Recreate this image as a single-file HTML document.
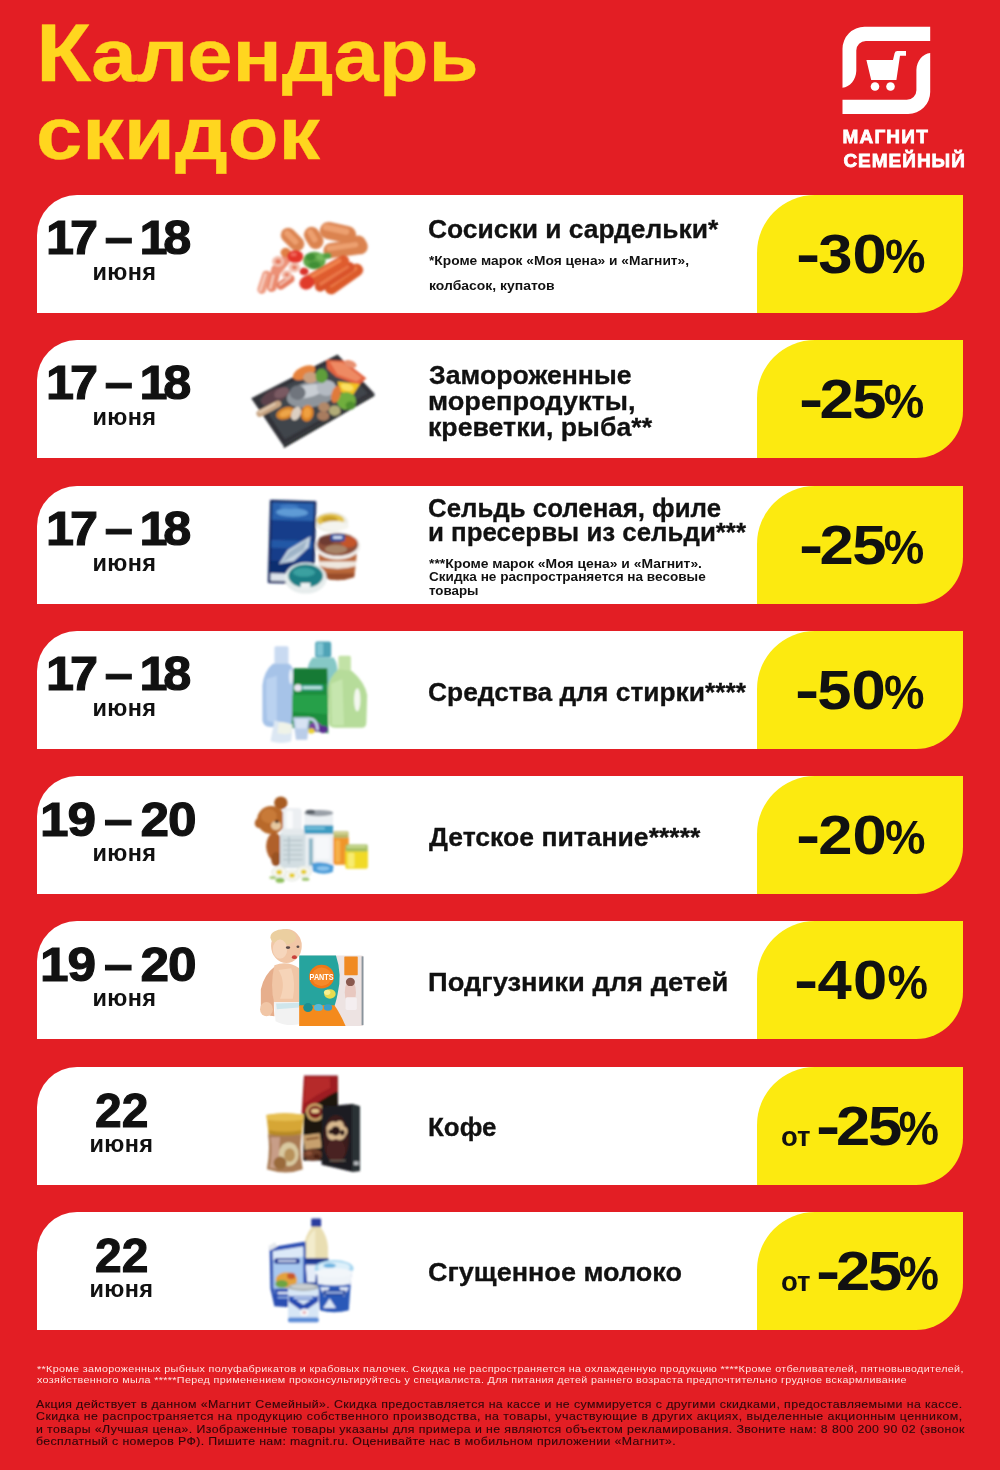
<!DOCTYPE html>
<html lang="ru">
<head>
<meta charset="utf-8">
<title>Календарь скидок — Магнит Семейный</title>
<style>
html,body{margin:0;padding:0}
body{width:1000px;height:1470px;background:#E31E24;position:relative;overflow:hidden;font-family:"Liberation Sans",sans-serif}
.t{position:absolute;white-space:nowrap;transform-origin:0 0;margin:0;padding:0;font-weight:bold;color:#111}
.row{position:absolute;left:37px;width:926px;height:118px}
.card{position:absolute;left:0;top:0;width:800px;height:118px;background:#fff;border-top-left-radius:40px}
.badge{position:absolute;left:720px;top:0;width:206px;height:118px;background:#FCEA10;border-radius:58px 0 47px 0}
.pp{display:inline-block;font-size:.87em;transform:scaleX(.85);transform-origin:0 100%;margin-left:-1px}
.hy{display:inline-block;transform:scaleX(1.18);transform-origin:0 50%;margin-right:1.5px}
.dt{-webkit-text-stroke:1.1px #111}
.g{margin:0;padding:0;font-size:0;line-height:0}
.nm{-webkit-text-stroke:.3px #111}
.lg{-webkit-text-stroke:.8px #fff}
.f2{-webkit-text-stroke:.12px #30070A}
.ti{-webkit-text-stroke:.3px #FFD61F}
.pic{position:absolute;display:block}
.logo{position:absolute;display:block}
</style>
</head>
<body>

<h1 style="margin:0;font-size:0"><span class="t ti" style="left:36.40px;top:16.36px;font-size:74px;line-height:74px;color:#FFD61F;transform:scaleX(1.1015);"><span style="font-size:82px">К</span>алендарь</span><span class="t ti" style="left:35.60px;top:97.26px;font-size:74px;line-height:74px;color:#FFD61F;transform:scaleX(1.1230);">скидок</span></h1>
<svg class="logo" style="left:842px;top:26px" width="89" height="89" viewBox="0 0 89 89" aria-label="Магнит">
<g fill="#fff">
<path d="M88.2 0.8H22.5A22 22 0 0 0 0.5 22.8V61.8C8 61 13.9 54 14.3 45V24.6A9.6 9.6 0 0 1 23.9 15H88.2Z"/>
<path d="M0.5 88H66.2A22 22 0 0 0 88.2 66V27C80.7 27.800 74.8 34.800 74.4 43.800V64.200A9.600 9.600 0 0 1 64.800 73.800H0.5Z"/>
<g transform="translate(0 0.9)"><path d="M24.4 33.2H51L52.6 26.3Q53.1 24 55.4 24H64V28.800H58L54.4 53.2H29.2Z"/>
<circle cx="33" cy="59.6" r="4.3"/><circle cx="48.5" cy="59.6" r="4.3"/></g>
</g>
</svg>
<div class="t lg" style="left:842.40px;top:127.12px;font-size:19px;line-height:19px;color:#fff;letter-spacing:1.221px;">МАГНИТ</div><div class="t lg" style="left:843.40px;top:150.52px;font-size:19px;line-height:19px;color:#fff;letter-spacing:0.990px;">СЕМЕЙНЫЙ</div>
<section class="row" style="top:195px">
<div class="card"></div><div class="badge"></div>
<div class="t dt" style="left:9.00px;top:18.14px;font-size:48.5px;line-height:48.5px;letter-spacing:-4.000px;word-spacing:1.00px;transform:scaleX(1.0400);">17 – 18</div><div class="t" style="left:55.60px;top:66.41px;font-size:23.5px;line-height:23.5px;letter-spacing:0.297px;">июня</div><h2 class="g nm"><span class="t" style="left:390.68px;top:21.49px;font-size:26px;line-height:26px;transform:scaleX(1.0158);">Сосиски и сардельки*</span></h2><p class="g"><span class="t" style="left:391.70px;top:58.77px;font-size:13.5px;line-height:13.5px;transform:scaleX(1.0200);">*Кроме марок «Моя цена» и «Магнит»,</span> <span class="t" style="left:391.70px;top:84.37px;font-size:13.5px;line-height:13.5px;transform:scaleX(1.0325);">колбасок, купатов</span></p><div class="t" style="left:758.80px;top:31.20px;font-size:56px;line-height:56px;transform:scaleX(1.1000);"><span class="hy">-</span>30<span class="pp">%</span></div>
<svg class="pic" style="left:203px;top:0px" width="160" height="118" viewBox="0 0 1000 738" role="img" aria-label="Сосиски и сардельки"><defs><filter id="b1" x="-5%" y="-5%" width="110%" height="110%"><feGaussianBlur stdDeviation="5"/></filter></defs><g filter="url(#b1)"><rect x="75" y="518" width="150" height="54" rx="27" fill="#EE9A80" transform="rotate(-72 150 545)" /><rect x="83" y="539" width="120" height="12" rx="6" fill="#F9D8CC" transform="rotate(-72 143 545)" /><rect x="124" y="490" width="175" height="60" rx="30" fill="#EA8A6E" transform="rotate(-76 212 520)" /><rect x="134" y="513" width="140" height="14" rx="7" fill="#F8D2C4" transform="rotate(-76 204 520)" /><rect x="222" y="519" width="125" height="52" rx="26" fill="#E67C60" transform="rotate(-35 285 545)" /><rect x="237" y="532" width="90" height="12" rx="6" fill="#F6C8B8" transform="rotate(-35 282 538)" /><rect x="180" y="409" width="150" height="62" rx="31" fill="#EC9076" transform="rotate(-50 255 440)" /><ellipse cx="238" cy="415" rx="38" ry="34" fill="#F3BFAE" /><ellipse cx="340" cy="452" rx="36" ry="32" fill="#F4C4B4" /><ellipse cx="292" cy="498" rx="32" ry="28" fill="#F3C0B0" /><ellipse cx="238" cy="415" rx="18" ry="16" fill="#E67C60" /><ellipse cx="340" cy="452" rx="16" ry="14" fill="#E67C60" /><ellipse cx="292" cy="498" rx="14" ry="12" fill="#E67C60" /><rect x="243" y="232" width="170" height="92" rx="46" fill="#DB8350" transform="rotate(45 328 278)" /><rect x="265" y="248" width="110" height="36" rx="18" fill="#EDA070" transform="rotate(45 320 266)" /><rect x="388" y="219" width="145" height="98" rx="49" fill="#DB8350" transform="rotate(58 460 268)" /><rect x="407" y="237" width="90" height="36" rx="18" fill="#EDA070" transform="rotate(58 452 255)" /><ellipse cx="285" cy="360" rx="32" ry="30" fill="#E07F45" /><rect x="685" y="264" width="120" height="95" rx="48" fill="#DB8350" transform="rotate(60 745 312)" /><rect x="520" y="288" width="270" height="95" rx="48" fill="#DB8350" transform="rotate(-8 655 335)" /><rect x="540" y="305" width="200" height="34" rx="17" fill="#EDA070" transform="rotate(-8 640 322)" /><rect x="497" y="181" width="230" height="108" rx="54" fill="#DB8350" transform="rotate(12 612 235)" /><rect x="515" y="195" width="170" height="40" rx="20" fill="#EDA070" transform="rotate(12 600 215)" /><rect x="512" y="485" width="275" height="80" rx="40" fill="#DC5A2A" transform="rotate(-35 650 525)" /><rect x="540" y="499" width="210" height="26" rx="13" fill="#EE7F4A" transform="rotate(-35 645 512)" /><rect x="450" y="479" width="285" height="66" rx="33" fill="#D9522A" transform="rotate(-33 592 512)" /><rect x="478" y="491" width="220" height="22" rx="11" fill="#EB7848" transform="rotate(-33 588 502)" /><rect x="356" y="445" width="345" height="74" rx="37" fill="#DF5B2E" transform="rotate(-30 528 482)" /><rect x="390" y="458" width="260" height="24" rx="12" fill="#F0834E" transform="rotate(-30 520 470)" /><ellipse cx="418" cy="548" rx="48" ry="42" fill="#E03A2A" transform="rotate(-30 418 548)" /><ellipse cx="345" cy="385" rx="50" ry="40" fill="#E3342B" /><ellipse cx="335" cy="372" rx="20" ry="12" fill="#F0685C" /><ellipse cx="400" cy="478" rx="28" ry="24" fill="#D9302A" /><ellipse cx="465" cy="410" rx="70" ry="55" fill="#5FA648" /><ellipse cx="440" cy="388" rx="30" ry="24" fill="#3F8F36" /><ellipse cx="510" cy="388" rx="34" ry="22" fill="#74BA5C" /><ellipse cx="465" cy="438" rx="38" ry="22" fill="#3F8F36" /><ellipse cx="545" cy="380" rx="26" ry="20" fill="#55A044" /></g></svg>
</section>
<section class="row" style="top:340px">
<div class="card"></div><div class="badge"></div>
<div class="t dt" style="left:9.00px;top:18.14px;font-size:48.5px;line-height:48.5px;letter-spacing:-4.000px;word-spacing:1.00px;transform:scaleX(1.0400);">17 – 18</div><div class="t" style="left:55.60px;top:66.41px;font-size:23.5px;line-height:23.5px;letter-spacing:0.297px;">июня</div><h2 class="g nm"><span class="t" style="left:391.70px;top:21.99px;font-size:26px;line-height:26px;transform:scaleX(1.0253);">Замороженные</span><br><span class="t" style="left:390.66px;top:48.09px;font-size:26px;line-height:26px;transform:scaleX(1.0449);">морепродукты,</span><br><span class="t" style="left:390.67px;top:74.19px;font-size:26px;line-height:26px;transform:scaleX(1.0270);">креветки, рыба**</span></h2><div class="t" style="left:762.40px;top:31.20px;font-size:56px;line-height:56px;letter-spacing:-1.500px;transform:scaleX(1.1000);"><span class="hy">-</span>25<span class="pp">%</span></div>
<svg class="pic" style="left:203px;top:0px" width="160" height="118" viewBox="0 0 1000 738" role="img" aria-label="Замороженные морепродукты"><defs><filter id="b2" x="-5%" y="-5%" width="110%" height="110%"><feGaussianBlur stdDeviation="5"/></filter></defs><g filter="url(#b2)"><polygon points="70,365 610,90 840,335 270,660" fill="#303338" /><polygon points="120,370 600,125 800,335 280,620" fill="#41454B" /><polygon points="270,660 840,335 840,350 275,675" fill="#1F2023" /><ellipse cx="215" cy="355" rx="90" ry="45" fill="#5C434B" transform="rotate(-25 215 355)" /><ellipse cx="260" cy="330" rx="50" ry="30" fill="#7A5A62" transform="rotate(-25 260 330)" /><ellipse cx="450" cy="340" rx="160" ry="80" fill="#8E949B" transform="rotate(-12 450 340)" /><ellipse cx="420" cy="320" rx="110" ry="40" fill="#C9CED4" transform="rotate(-12 420 320)" /><ellipse cx="540" cy="300" rx="60" ry="50" fill="#B4BAC2" /><ellipse cx="360" cy="330" rx="50" ry="45" fill="#6F757D" /><ellipse cx="400" cy="205" rx="75" ry="38" fill="#E5823C" transform="rotate(-25 400 205)" /><ellipse cx="440" cy="235" rx="45" ry="35" fill="#C9A080" /><polygon points="540,125 650,130 790,240 740,285 600,230 545,180" fill="#E2623F" /><polygon points="560,135 640,140 760,235 730,260 610,215" fill="#EE8A63" /><ellipse cx="690" cy="150" rx="40" ry="22" fill="#E89070" transform="rotate(20 690 150)" /><polygon points="610,260 750,275 705,345 625,325" fill="#F4C21F" /><ellipse cx="670" cy="295" rx="40" ry="22" fill="#FBE060" transform="rotate(15 670 295)" /><ellipse cx="510" cy="225" rx="38" ry="45" fill="#5E9E3A" /><ellipse cx="665" cy="380" rx="60" ry="55" fill="#6FAE3C" /><ellipse cx="690" cy="410" rx="30" ry="25" fill="#4F8F2E" /><ellipse cx="600" cy="340" rx="28" ry="55" fill="#E07A3A" transform="rotate(15 600 340)" /><rect x="95" y="409" width="170" height="42" rx="21" fill="#C9A684" transform="rotate(-28 180 430)" /><rect x="110" y="418" width="120" height="14" rx="7" fill="#E2CBB0" transform="rotate(-28 170 425)" /><ellipse cx="285" cy="458" rx="62" ry="36" fill="#D5842C" transform="rotate(-20 285 458)" /><ellipse cx="285" cy="458" rx="40" ry="20" fill="#EDA648" transform="rotate(-20 285 458)" /><ellipse cx="420" cy="458" rx="40" ry="52" fill="#DE8428" transform="rotate(10 420 458)" /><ellipse cx="420" cy="455" rx="24" ry="34" fill="#F0A040" transform="rotate(10 420 455)" /><ellipse cx="350" cy="460" rx="28" ry="45" fill="#DCCFC2" transform="rotate(25 350 460)" /><ellipse cx="525" cy="420" rx="36" ry="30" fill="#B28868" /><ellipse cx="592" cy="442" rx="36" ry="32" fill="#B2AC78" /><ellipse cx="520" cy="475" rx="38" ry="30" fill="#A87C5E" /></g></svg>
</section>
<section class="row" style="top:486px">
<div class="card"></div><div class="badge"></div>
<div class="t dt" style="left:9.00px;top:18.14px;font-size:48.5px;line-height:48.5px;letter-spacing:-4.000px;word-spacing:1.00px;transform:scaleX(1.0400);">17 – 18</div><div class="t" style="left:55.60px;top:66.41px;font-size:23.5px;line-height:23.5px;letter-spacing:0.297px;">июня</div><h2 class="g nm"><span class="t" style="left:390.71px;top:9.39px;font-size:26px;line-height:26px;transform:scaleX(0.9936);">Сельдь соленая, филе</span><br><span class="t" style="left:390.70px;top:32.79px;font-size:26px;line-height:26px;transform:scaleX(0.9953);">и пресервы из сельди***</span></h2><p class="g"><span class="t" style="left:391.70px;top:71.17px;font-size:13.5px;line-height:13.5px;transform:scaleX(1.0282);">***Кроме марок «Моя цена» и «Магнит».</span> <span class="t" style="left:391.70px;top:84.47px;font-size:13.5px;line-height:13.5px;transform:scaleX(1.0051);">Скидка не распространяется на весовые</span> <span class="t" style="left:391.70px;top:97.77px;font-size:13.5px;line-height:13.5px;transform:scaleX(0.9888);">товары</span></p><div class="t" style="left:762.40px;top:31.20px;font-size:56px;line-height:56px;letter-spacing:-1.500px;transform:scaleX(1.1000);"><span class="hy">-</span>25<span class="pp">%</span></div>
<svg class="pic" style="left:203px;top:0px" width="160" height="118" viewBox="0 0 1000 738" role="img" aria-label="Сельдь соленая, филе и пресервы"><defs><filter id="b3" x="-5%" y="-5%" width="110%" height="110%"><feGaussianBlur stdDeviation="5"/></filter></defs><g filter="url(#b3)"><ellipse cx="570" cy="225" rx="105" ry="62" fill="#ECECE4" /><ellipse cx="565" cy="215" rx="85" ry="42" fill="#E3C24A" /><ellipse cx="560" cy="210" rx="50" ry="22" fill="#C9A02C" /><ellipse cx="590" cy="250" rx="90" ry="30" fill="#F4F4EE" /><g transform="rotate(1.5 325 350)"><rect x="180" y="90" width="290" height="520" rx="8" fill="#16275C" /><rect x="195" y="105" width="260" height="490" rx="4" fill="#193E8A" /><rect x="195" y="105" width="260" height="110" fill="#2A62AE" /><ellipse cx="320" cy="165" rx="100" ry="28" fill="#5F9BD6" /><ellipse cx="300" cy="130" rx="60" ry="14" fill="#3F7CC4" /><rect x="195" y="340" width="260" height="50" fill="#2458A6" /><rect x="195" y="470" width="260" height="125" fill="#112E70" /><polygon points="245,490 300,400 440,310 430,380 340,470" fill="#C8D6E2" /><polygon points="260,485 310,410 420,335 400,395" fill="#9FB4C8" /><rect x="195" y="548" width="105" height="48" fill="#DDE3EA" /></g><path d="M490 420 L730 420 L715 565 Q610 610 505 565 Z" fill="#B9683A" /><path d="M495 470 L725 470 L722 500 Q610 535 498 500 Z" fill="#EFE7DF" /><path d="M505 545 L715 545 L712 570 Q610 605 508 570 Z" fill="#9A4E2C" /><ellipse cx="610" cy="375" rx="142" ry="85" fill="#F1EFEC" /><ellipse cx="610" cy="365" rx="128" ry="70" fill="#8C4F3A" /><ellipse cx="680" cy="350" rx="50" ry="35" fill="#C4542A" /><ellipse cx="540" cy="340" rx="50" ry="30" fill="#6E3A30" /><ellipse cx="600" cy="395" rx="70" ry="28" fill="#A88468" /><rect x="565" y="300" width="90" height="45" rx="10" fill="#2B4EA3" /><rect x="580" y="312" width="60" height="18" rx="6" fill="#DDE6F5" /><ellipse cx="410" cy="575" rx="132" ry="98" fill="#E6ECEC" /><ellipse cx="410" cy="562" rx="108" ry="72" fill="#1E7E84" /><ellipse cx="400" cy="540" rx="70" ry="28" fill="#3AA0A0" /><rect x="378" y="605" width="62" height="34" rx="4" fill="#EEF2F2" /></g></svg>
</section>
<section class="row" style="top:631px">
<div class="card"></div><div class="badge"></div>
<div class="t dt" style="left:9.00px;top:18.14px;font-size:48.5px;line-height:48.5px;letter-spacing:-4.000px;word-spacing:1.00px;transform:scaleX(1.0400);">17 – 18</div><div class="t" style="left:55.60px;top:66.41px;font-size:23.5px;line-height:23.5px;letter-spacing:0.297px;">июня</div><h2 class="g nm"><span class="t" style="left:390.69px;top:47.79px;font-size:26px;line-height:26px;transform:scaleX(1.0136);">Средства для стирки****</span></h2><div class="t" style="left:758.20px;top:31.20px;font-size:56px;line-height:56px;transform:scaleX(1.1000);"><span class="hy">-</span>50<span class="pp">%</span></div>
<svg class="pic" style="left:203px;top:0px" width="160" height="118" viewBox="0 0 1000 738" role="img" aria-label="Средства для стирки"><defs><filter id="b4" x="-5%" y="-5%" width="110%" height="110%"><feGaussianBlur stdDeviation="5"/></filter></defs><g filter="url(#b4)"><rect x="470" y="65" width="100" height="100" rx="14" fill="#4FA3B6" /><rect x="480" y="75" width="40" height="80" rx="8" fill="#7FC4D2" /><path d="M455 165 L585 165 Q610 200 610 260 L610 420 L420 420 L420 250 Q425 195 455 165 Z" fill="#86C8C6" /><rect x="215" y="95" width="88" height="120" rx="10" fill="#C9DAF1" /><path d="M205 205 Q150 250 140 340 L140 560 Q145 600 190 600 L300 600 Q335 600 335 560 L335 250 Q320 205 300 205 Z" fill="#A6C3E8" /><path d="M165 300 Q160 420 170 560 L230 580 L230 280 Z" fill="#BAD2F0" /><ellipse cx="318" cy="285" rx="12" ry="48" fill="#E6EEF8" /><rect x="615" y="155" width="78" height="100" rx="10" fill="#C2E2A6" /><path d="M615 240 Q555 290 550 360 L555 580 Q560 605 600 605 L760 605 Q790 605 790 570 L795 400 Q780 320 700 250 Z" fill="#B6DC9A" /><path d="M570 330 L640 300 L650 590 L575 590 Z" fill="#C6E6AE" /><ellipse cx="733" cy="430" rx="20" ry="72" fill="#F4F8F0" /><polygon points="335,235 545,235 552,640 322,605" fill="#1F8E3E" /><polygon points="335,235 545,235 547,330 333,330" fill="#167A34" /><polygon points="328,400 550,400 551,520 325,505" fill="#27A048" /><rect x="340" y="338" width="180" height="34" rx="8" fill="#2E9E90" /><ellipse cx="362" cy="355" rx="24" ry="22" fill="#E8E4F0" /><rect x="392" y="346" width="120" height="16" rx="4" fill="#BFE4E0" /><ellipse cx="470" cy="600" rx="40" ry="30" fill="#7A3FA0" /><ellipse cx="520" cy="615" rx="30" ry="24" fill="#5A2F90" /><ellipse cx="445" cy="625" rx="22" ry="16" fill="#E8D030" /><path d="M215 560 L330 585 L320 690 Q260 710 190 690 Z" fill="#DCE7F3" /><path d="M240 575 Q280 560 325 590 L320 640 Q280 650 235 640 Z" fill="#EFF3E8" /><path d="M330 540 L435 540 L420 680 L350 680 Z" fill="#BACDE8" /><path d="M345 550 L425 550 L415 610 L352 610 Z" fill="#D8E3F3" /><path d="M430 550 Q480 545 485 620" fill="none" stroke="#C8D6EC" stroke-width="16"/></g></svg>
</section>
<section class="row" style="top:776px">
<div class="card"></div><div class="badge"></div>
<div class="t dt" style="left:3.00px;top:18.74px;font-size:48.5px;line-height:48.5px;letter-spacing:-1.000px;word-spacing:-4.00px;transform:scaleX(1.0600);">19 – 20</div><div class="t" style="left:55.60px;top:66.41px;font-size:23.5px;line-height:23.5px;letter-spacing:0.297px;">июня</div><h2 class="g nm"><span class="t" style="left:391.70px;top:47.79px;font-size:26px;line-height:26px;transform:scaleX(1.0212);">Детское питание*****</span></h2><div class="t" style="left:758.80px;top:31.20px;font-size:56px;line-height:56px;transform:scaleX(1.1000);"><span class="hy">-</span>20<span class="pp">%</span></div>
<svg class="pic" style="left:203px;top:0px" width="160" height="118" viewBox="0 0 1000 738" role="img" aria-label="Детское питание"><defs><filter id="b5" x="-5%" y="-5%" width="110%" height="110%"><feGaussianBlur stdDeviation="5"/></filter></defs><g filter="url(#b5)"><ellipse cx="255" cy="168" rx="42" ry="40" fill="#A85C22" /><ellipse cx="122" cy="295" rx="30" ry="32" fill="#B0642A" /><ellipse cx="195" cy="275" rx="88" ry="88" fill="#B8692C" /><ellipse cx="180" cy="250" rx="50" ry="45" fill="#C87A38" /><ellipse cx="215" cy="440" rx="52" ry="85" fill="#B0602A" /><ellipse cx="225" cy="520" rx="30" ry="45" fill="#9A5222" /><ellipse cx="225" cy="310" rx="32" ry="28" fill="#E6C8A0" /><ellipse cx="230" cy="285" rx="12" ry="10" fill="#3A2418" /><rect x="402" y="232" width="180" height="350" rx="10" fill="#EDF1F4" /><ellipse cx="492" cy="232" rx="90" ry="20" fill="#9AA0A8" /><ellipse cx="440" cy="225" rx="30" ry="14" fill="#5A6068" /><rect x="402" y="308" width="180" height="54" fill="#3C9CC2" /><rect x="410" y="320" width="120" height="14" fill="#7CC4DE" /><rect x="430" y="390" width="26" height="170" fill="#8FB8C8" /><rect x="470" y="380" width="90" height="140" fill="#F6F8FA" /><path d="M450 545 Q520 530 585 560 L580 600 Q520 625 455 595 Z" fill="#4C9CD8" /><ellipse cx="520" cy="578" rx="40" ry="14" fill="#8CC4EE" /><rect x="268" y="200" width="118" height="150" rx="22" fill="#ECEFF2" /><rect x="290" y="215" width="40" height="120" rx="12" fill="#FAFBFC" /><rect x="250" y="345" width="160" height="230" rx="26" fill="#D3DEE2" /><rect x="262" y="330" width="136" height="40" rx="10" fill="#E4E9EC" /><rect x="270" y="400" width="120" height="6" fill="#A9B8BE" /><rect x="270" y="430" width="120" height="6" fill="#A9B8BE" /><rect x="270" y="460" width="120" height="6" fill="#A9B8BE" /><rect x="270" y="490" width="120" height="6" fill="#A9B8BE" /><rect x="270" y="520" width="120" height="6" fill="#A9B8BE" /><rect x="300" y="380" width="10" height="170" fill="#B5C4CA" /><rect x="582" y="375" width="98" height="180" rx="14" fill="#F0952A" /><rect x="596" y="400" width="30" height="140" rx="10" fill="#F6B04A" /><rect x="584" y="345" width="94" height="42" rx="8" fill="#B9B86A" /><rect x="590" y="352" width="82" height="12" rx="4" fill="#D8D89A" /><rect x="658" y="455" width="142" height="125" rx="16" fill="#F1DA28" /><rect x="675" y="480" width="40" height="90" rx="10" fill="#F8EC70" /><rect x="660" y="428" width="138" height="44" rx="8" fill="#A4BE5E" /><rect x="668" y="436" width="120" height="12" rx="4" fill="#CBDC96" /><ellipse cx="245" cy="602" rx="50" ry="38" fill="#E9ECE4" /><ellipse cx="245" cy="602" rx="40" ry="28" fill="#F7F8F4" /><ellipse cx="245" cy="602" rx="18" ry="15" fill="#E6CE22" /><ellipse cx="325" cy="622" rx="50" ry="38" fill="#E9ECE4" /><ellipse cx="325" cy="622" rx="40" ry="28" fill="#F7F8F4" /><ellipse cx="325" cy="622" rx="18" ry="15" fill="#E6CE22" /><ellipse cx="398" cy="600" rx="50" ry="38" fill="#E9ECE4" /><ellipse cx="398" cy="600" rx="40" ry="28" fill="#F7F8F4" /><ellipse cx="398" cy="600" rx="18" ry="15" fill="#E6CE22" /><ellipse cx="250" cy="652" rx="28" ry="16" fill="#8FC05C" /><ellipse cx="205" cy="635" rx="22" ry="10" fill="#A8CC78" /><ellipse cx="410" cy="645" rx="24" ry="10" fill="#9CC468" /></g></svg>
</section>
<section class="row" style="top:921px">
<div class="card"></div><div class="badge"></div>
<div class="t dt" style="left:3.00px;top:18.74px;font-size:48.5px;line-height:48.5px;letter-spacing:-1.000px;word-spacing:-4.00px;transform:scaleX(1.0600);">19 – 20</div><div class="t" style="left:55.60px;top:66.41px;font-size:23.5px;line-height:23.5px;letter-spacing:0.297px;">июня</div><h2 class="g nm"><span class="t" style="left:390.65px;top:47.79px;font-size:26px;line-height:26px;transform:scaleX(1.0506);">Подгузники для детей</span></h2><div class="t" style="left:756.80px;top:31.20px;font-size:56px;line-height:56px;letter-spacing:1.200px;transform:scaleX(1.1000);"><span class="hy">-</span>40<span class="pp">%</span></div>
<svg class="pic" style="left:203px;top:1px" width="160" height="118" viewBox="0 0 1000 738" role="img" aria-label="Подгузники для детей"><defs><filter id="b6" x="-5%" y="-5%" width="110%" height="110%"><feGaussianBlur stdDeviation="4"/></filter></defs><g filter="url(#b6)"><path d="M130 420 Q150 330 215 280 L250 320 Q200 420 215 590 Q160 590 130 540 Z" fill="#E6AE8C" /><path d="M215 270 Q300 240 370 290 L370 510 L215 510 Q185 400 215 270 Z" fill="#F1C6A6" /><path d="M240 300 Q290 380 250 480 L330 480 Q350 380 320 290 Z" fill="#F6D4B8" /><ellipse cx="290" cy="150" rx="96" ry="106" fill="#F1C6A6" /><ellipse cx="270" cy="95" rx="80" ry="50" fill="#EBCFA0" /><ellipse cx="250" cy="170" rx="45" ry="60" fill="#F6D6BC" /><ellipse cx="340" cy="220" rx="16" ry="12" fill="#C8403A" /><ellipse cx="300" cy="160" rx="14" ry="9" fill="#5A4A48" /><ellipse cx="362" cy="155" rx="9" ry="8" fill="#5A4A48" /><path d="M212 500 L372 500 L372 640 Q290 655 222 620 Z" fill="#F2F2F2" /><path d="M225 510 L370 505 L370 535 L230 545 Z" fill="#CFE6EC" /><ellipse cx="165" cy="545" rx="40" ry="45" fill="#F1C6A6" /><rect x="370" y="210" width="400" height="440" rx="8" fill="#EDE3E2" /><path d="M370 210 L600 210 Q640 330 610 450 Q600 500 590 525 L370 525 Z" fill="#25A49E" /><path d="M370 520 L590 520 Q620 560 660 650 L370 650 Z" fill="#F48A1C" /><rect x="652" y="215" width="84" height="118" rx="4" fill="#F08A22" /><ellipse cx="690" cy="440" rx="35" ry="80" fill="#E8C8C0" /><ellipse cx="690" cy="375" rx="28" ry="26" fill="#8A5A50" /><rect x="660" y="470" width="70" height="80" rx="10" fill="#F4EEF0" /><ellipse cx="510" cy="342" rx="78" ry="74" fill="#F07818" /><ellipse cx="510" cy="342" rx="62" ry="58" fill="#F58A2A" /><ellipse cx="562" cy="450" rx="36" ry="30" fill="#E8DC50" /><ellipse cx="545" cy="440" rx="20" ry="16" fill="#F8F090" /><ellipse cx="425" cy="535" rx="30" ry="28" fill="#1E8E90" /><ellipse cx="490" cy="535" rx="28" ry="22" fill="#5AB8D8" /><ellipse cx="550" cy="535" rx="26" ry="20" fill="#3A9CC8" /><rect x="760" y="215" width="12" height="430" fill="#8A949C" /><text x="510" y="360" font-family="Liberation Sans, sans-serif" font-weight="bold" font-size="52" text-anchor="middle" fill="#fff" textLength="150" lengthAdjust="spacingAndGlyphs">PANTS</text></g></svg>
</section>
<section class="row" style="top:1067px">
<div class="card"></div><div class="badge"></div>
<div class="t dt" style="left:57.61px;top:18.54px;font-size:48.5px;line-height:48.5px;transform:scaleX(0.9890);">22</div><div class="t" style="left:52.50px;top:66.41px;font-size:23.5px;line-height:23.5px;letter-spacing:0.363px;">июня</div><h2 class="g nm"><span class="t" style="left:390.70px;top:47.19px;font-size:26px;line-height:26px;transform:scaleX(0.9976);">Кофе</span></h2><div class="t" style="left:743.72px;top:55.70px;font-size:28px;line-height:28px;transform:scaleX(0.9822);">от</div><div class="t" style="left:779.00px;top:31.20px;font-size:56px;line-height:56px;letter-spacing:-2.000px;transform:scaleX(1.1000);"><span class="hy">-</span>25<span class="pp">%</span></div>
<svg class="pic" style="left:203px;top:0px" width="160" height="118" viewBox="0 0 1000 738" role="img" aria-label="Кофе"><defs><filter id="b7" x="-5%" y="-5%" width="110%" height="110%"><feGaussianBlur stdDeviation="5"/></filter></defs><g filter="url(#b7)"><polygon points="400,55 610,55 618,585 395,585" fill="#1B1310" /><path d="M400 55 L610 55 L612 150 Q520 190 385 300 Z" fill="#9E1F20" /><path d="M410 65 L560 65 L565 130 Q480 170 400 230 Z" fill="#B62A2A" /><ellipse cx="470" cy="282" rx="58" ry="56" fill="#C9A467" /><ellipse cx="470" cy="282" rx="42" ry="40" fill="#7A1C1A" /><ellipse cx="470" cy="275" rx="26" ry="14" fill="#E2C48C" /><rect x="400" y="420" width="105" height="92" rx="4" fill="#C7A06E" transform="rotate(-8 452.5 466.0)" /><rect x="412" y="440" width="80" height="14" fill="#8A5A30" transform="rotate(-8 452.0 447.0)" /><ellipse cx="455" cy="548" rx="60" ry="38" fill="#6B3A28" /><ellipse cx="430" cy="540" rx="20" ry="14" fill="#8E5238" /><ellipse cx="480" cy="560" rx="20" ry="14" fill="#4A2418" /><polygon points="510,248 700,232 750,245 750,650 700,655 510,612" fill="#1D1D23" /><polygon points="700,232 750,245 750,650 700,655" fill="#2C3236" /><ellipse cx="600" cy="450" rx="80" ry="150" fill="#3B1A1A" /><ellipse cx="600" cy="520" rx="60" ry="70" fill="#4A2220" /><path d="M540 380 Q560 330 600 345 Q640 320 650 370 Q690 390 660 430 Q640 470 600 450 Q560 470 545 430 Z" fill="#D9B98F" /><ellipse cx="598" cy="400" rx="28" ry="30" fill="#2A1416" /><ellipse cx="640" cy="410" rx="14" ry="18" fill="#2A1416" /><ellipse cx="565" cy="405" rx="12" ry="16" fill="#2A1416" /><rect x="560" y="580" width="100" height="10" fill="#6A6258" /><rect x="712" y="590" width="30" height="24" fill="#B8BCC0" /><path d="M175 420 L385 420 Q370 520 392 640 Q290 680 168 640 Q190 520 175 420 Z" fill="#A97A52" /><path d="M190 440 L250 440 Q240 540 255 640 L185 630 Q205 530 190 440 Z" fill="#C89E88" /><ellipse cx="305" cy="545" rx="62" ry="75" fill="#D9C9A0" /><ellipse cx="310" cy="550" rx="34" ry="42" fill="#B8925A" /><ellipse cx="250" cy="600" rx="40" ry="40" fill="#9A6A3A" /><path d="M165 300 Q280 280 398 300 L385 415 Q280 435 178 415 Z" fill="#D6A636" /><path d="M165 300 Q280 280 398 300 L395 330 Q280 345 168 330 Z" fill="#E6BE50" /><path d="M180 395 Q280 415 385 395 L385 420 Q280 440 178 420 Z" fill="#B78A26" /></g></svg>
</section>
<section class="row" style="top:1212px">
<div class="card"></div><div class="badge"></div>
<div class="t dt" style="left:57.61px;top:18.54px;font-size:48.5px;line-height:48.5px;transform:scaleX(0.9890);">22</div><div class="t" style="left:52.50px;top:66.41px;font-size:23.5px;line-height:23.5px;letter-spacing:0.363px;">июня</div><h2 class="g nm"><span class="t" style="left:390.66px;top:47.19px;font-size:26px;line-height:26px;transform:scaleX(1.0401);">Сгущенное молоко</span></h2><div class="t" style="left:743.72px;top:55.70px;font-size:28px;line-height:28px;transform:scaleX(0.9822);">от</div><div class="t" style="left:779.00px;top:31.20px;font-size:56px;line-height:56px;letter-spacing:-2.000px;transform:scaleX(1.1000);"><span class="hy">-</span>25<span class="pp">%</span></div>
<svg class="pic" style="left:203px;top:0px" width="160" height="118" viewBox="0 0 1000 738" role="img" aria-label="Сгущенное молоко"><defs><filter id="b8" x="-5%" y="-5%" width="110%" height="110%"><feGaussianBlur stdDeviation="5"/></filter></defs><g filter="url(#b8)"><rect x="445" y="40" width="62" height="56" rx="8" fill="#2A3E9E" /><path d="M450 92 L502 92 Q545 150 550 220 L550 300 L398 300 L398 220 Q405 150 450 92 Z" fill="#E9DEB2" /><path d="M420 180 Q440 130 470 110 L470 290 L415 290 Z" fill="#F3ECCC" /><rect x="396" y="290" width="156" height="170" fill="#2747A0" /><polygon points="410,330 480,330 470,440 420,440" fill="#E4ECF8" /><rect x="396" y="290" width="156" height="22" fill="#1B3488" /><polygon points="185,222 410,185 412,470 380,600 215,590 190,480" fill="#2A4EB2" /><polygon points="205,245 395,215 396,460 370,575 228,568 208,470" fill="#A9C9F0" /><polygon points="205,245 395,215 396,280 206,300" fill="#DCE9F8" /><rect x="215" y="290" width="158" height="34" rx="12" fill="#1A3090" /><rect x="235" y="300" width="118" height="12" rx="5" fill="#C8D6F0" /><ellipse cx="290" cy="425" rx="68" ry="48" fill="#E3A23E" /><ellipse cx="260" cy="450" rx="40" ry="24" fill="#6DA443" /><ellipse cx="320" cy="400" rx="26" ry="20" fill="#C95A2A" /><polygon points="215,480 380,480 372,590 222,585" fill="#2A4EB2" /><rect x="235" y="500" width="120" height="14" fill="#DCE6F8" /><rect x="235" y="530" width="100" height="10" fill="#9CB8E8" /><rect x="180" y="200" width="50" height="30" rx="6" fill="#E4E8EC" transform="rotate(-30 205.0 215.0)" /><path d="M482 390 L696 390 L680 615 Q590 640 498 615 Z" fill="#2A58B8" /><path d="M482 390 L696 390 L692 450 Q590 470 486 450 Z" fill="#EEF3F8" /><polygon points="500,470 560,470 530,530" fill="#E8F0FA" /><polygon points="620,470 680,470 650,530" fill="#E8F0FA" /><polygon points="520,600 560,540 600,600" fill="#DDE8F6" /><rect x="520" y="490" width="140" height="30" rx="6" fill="#1E3F98" /><rect x="535" y="498" width="110" height="12" rx="4" fill="#AFC6EE" /><ellipse cx="588" cy="352" rx="122" ry="52" fill="#A6D6F0" /><ellipse cx="588" cy="345" rx="100" ry="34" fill="#DDF0FA" /><ellipse cx="588" cy="380" rx="118" ry="28" fill="#F2F6FA" /><ellipse cx="560" cy="335" rx="40" ry="14" fill="#6CB4E0" /><rect x="300" y="470" width="192" height="222" rx="18" fill="#D7E6F6" /><ellipse cx="396" cy="470" rx="96" ry="24" fill="#A9B0B2" /><ellipse cx="396" cy="466" rx="78" ry="16" fill="#C9CED0" /><polygon points="305,520 396,580 488,520 488,560 396,625 305,560" fill="#2848B0" /><rect x="320" y="525" width="150" height="26" rx="6" fill="#2F5CC0" /><rect x="335" y="532" width="120" height="10" rx="4" fill="#CFE0F6" /><ellipse cx="402" cy="628" rx="26" ry="24" fill="#F6F8FA" /><ellipse cx="402" cy="628" rx="12" ry="11" fill="#E8B0B8" /><rect x="300" y="660" width="192" height="30" rx="12" fill="#5C8CD8" /></g></svg>
</section>
<footer><p class="t" style="left:36.80px;top:1364.16px;font-size:9.5px;line-height:9.5px;color:#FFE4E0;font-weight:normal;letter-spacing:0.306px;transform:scaleX(1.1300);">**Кроме замороженных рыбных полуфабрикатов и крабовых палочек. Скидка не распространяется на охлажденную продукцию ****Кроме отбеливателей, пятновыводителей,</p><p class="t" style="left:36.80px;top:1375.16px;font-size:9.5px;line-height:9.5px;color:#FFE4E0;font-weight:normal;letter-spacing:0.301px;transform:scaleX(1.1300);">хозяйственного мыла *****Перед применением проконсультируйтесь у специалиста. Для питания детей раннего возраста предпочтительно грудное вскармливание</p><p class="t f2" style="left:36.40px;top:1399.19px;font-size:11px;line-height:11px;color:#30070A;font-weight:normal;letter-spacing:0.364px;transform:scaleX(1.1200);">Акция действует в данном «Магнит Семейный». Скидка предоставляется на кассе и не суммируется с другими скидками, предоставляемыми на кассе.</p><p class="t f2" style="left:36.40px;top:1411.49px;font-size:11px;line-height:11px;color:#30070A;font-weight:normal;letter-spacing:0.432px;transform:scaleX(1.1200);">Скидка не распространяется на продукцию собственного производства, на товары, участвующие в других акциях, выделенные акционным ценником,</p><p class="t f2" style="left:36.40px;top:1423.79px;font-size:11px;line-height:11px;color:#30070A;font-weight:normal;letter-spacing:0.366px;transform:scaleX(1.1200);">и товары «Лучшая цена». Изображенные товары указаны для примера и не являются объектом рекламирования. Звоните нам: 8 800 200 90 02 (звонок</p><p class="t f2" style="left:36.40px;top:1436.09px;font-size:11px;line-height:11px;color:#30070A;font-weight:normal;letter-spacing:0.332px;transform:scaleX(1.1200);">бесплатный с номеров РФ). Пишите нам: magnit.ru. Оценивайте нас в мобильном приложении «Магнит».</p></footer>
</body>
</html>
